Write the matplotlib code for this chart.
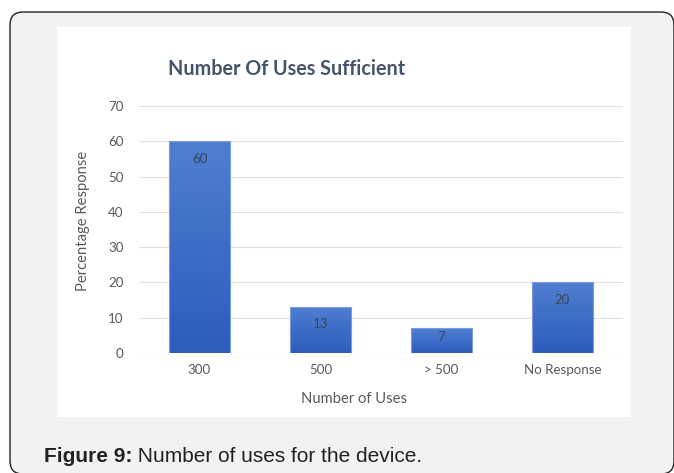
import numpy as np
import matplotlib.pyplot as plt
from matplotlib.patches import FancyBboxPatch, Rectangle
from matplotlib.colors import LinearSegmentedColormap

# data
categories = ['300', '500', '> 500', 'No Response']
values = [60, 13, 7, 20]
yticks = [0, 10, 20, 30, 40, 50, 60, 70]

W, H = 674, 473
fig = plt.figure(figsize=(W / 100, H / 100), dpi=100, facecolor='white')

# background layer in pixel coordinates
bg = fig.add_axes([0, 0, 1, 1], zorder=0)
bg.set_xlim(0, W)
bg.set_ylim(H, 0)
bg.axis('off')
box = FancyBboxPatch((10, 12), 664, 462, boxstyle='round,pad=0,rounding_size=13',
                     facecolor='#f1f2f4', edgecolor='#222222', lw=1.0)
bg.add_patch(box)
bg.add_patch(Rectangle((57, 27), 574, 390, facecolor='white', edgecolor='none'))

# title, axis labels
bg.text(287, 69, 'Number Of Uses Sufficient', ha='center', va='center',
        fontsize=14.2, fontweight='bold', color='#44546a', family='Lato')
bg.text(83, 221, 'Percentage Response', rotation=90, ha='center', va='center',
        fontsize=10.6, color='#595959', family='Lato')
bg.text(354, 399, 'Number of Uses', ha='center', va='center',
        fontsize=10.6, color='#595959', family='Lato')

# caption
t1 = bg.text(44, 466, 'Figure 9:', ha='left', va='bottom', fontsize=15,
             fontweight='bold', color='#222222', family='Liberation Sans')
bg.annotate(' Number of uses for the device.', xy=(1, 0), xycoords=t1,
            ha='left', va='bottom', fontsize=15, color='#222222',
            family='Liberation Sans')

# chart
ax = fig.add_axes([139 / W, (H - 353) / H, 484 / W, 247 / H], zorder=1)
ax.patch.set_alpha(0)
x = np.arange(len(categories))
bw = 0.5
cmap = LinearSegmentedColormap.from_list('bar', ['#2d5cbd', '#4f7ed1'])
grad = np.linspace(0, 1, 100).reshape(-1, 1)
bars = ax.bar(x, values, width=bw, facecolor='none', edgecolor='#7b9ddf', lw=0.8, zorder=3)
for b in bars:
    im = ax.imshow(grad, extent=(b.get_x(), b.get_x() + b.get_width(), 0, b.get_height()),
                   origin='lower', cmap=cmap, aspect='auto', zorder=2)
    im.set_clip_path(b)

# labels sit inside the bar top; short bars get them nearer the top
pt_per_unit = 247 / 70 * 0.72
for xi, v in zip(x, values):
    hpt = v * pt_per_unit
    off = 12.5 if hpt > 25 else hpt * 0.36
    ax.annotate(str(v), (xi, v), xytext=(0, -off), textcoords='offset points',
                ha='center', va='center', fontsize=9.5, color='#3a4452', family='Lato', zorder=4)

ax.set_xlim(-0.5, len(categories) - 0.5)
ax.set_ylim(0, 70)
ax.set_yticks(yticks)
ax.set_xticks(x)
ax.set_xticklabels(categories)
ax.grid(axis='y', color='#e0e0e0', lw=0.8, zorder=0)
ax.set_axisbelow(True)
for s in ax.spines.values():
    s.set_visible(False)
ax.tick_params(length=0, labelsize=9.6, labelcolor='#595959')
ax.tick_params(axis='y', pad=11)
ax.tick_params(axis='x', pad=8)
for lab in ax.get_xticklabels() + ax.get_yticklabels():
    lab.set_family('Lato')

fig.savefig('out.png', dpi=100, facecolor='white')
